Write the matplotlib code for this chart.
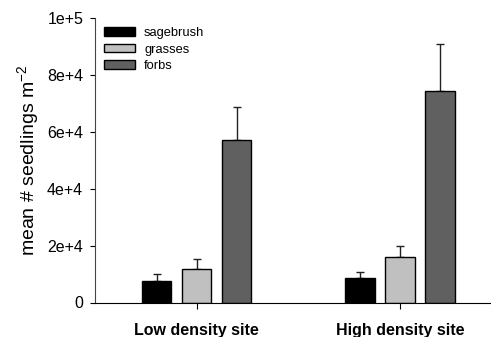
import numpy as np
import matplotlib.pyplot as plt

plt.rcParams['font.family'] = ['Liberation Sans', 'DejaVu Sans']

sites = ['Low density site', 'High density site']
groups = ['sagebrush', 'grasses', 'forbs']
means = {
    'sagebrush': [7700, 8500],
    'grasses': [11900, 15900],
    'forbs': [57100, 74300],
}
errs = {
    'sagebrush': [2400, 2300],
    'grasses': [3300, 4100],
    'forbs': [11500, 16500],
}
colors = {'sagebrush': '#000000', 'grasses': '#c0c0c0', 'forbs': '#606060'}

fig = plt.figure(figsize=(4.91, 3.37), dpi=100)
ax = fig.add_axes([95 / 491, 34.5 / 337, 396 / 491, 284.5 / 337])

x = np.arange(len(sites))
width = 0.145
offset = 0.197
for i, g in enumerate(groups):
    pos = x + (i - 1) * offset
    ax.bar(pos, means[g], width, color=colors[g], edgecolor='black',
           linewidth=1.0, label=g, zorder=2)
    ax.errorbar(pos, means[g], yerr=[np.zeros(len(sites)), errs[g]],
                fmt='none', ecolor='#222222', elinewidth=1.0,
                capsize=3, capthick=1.0, zorder=1)

ax.set_xlim(-0.5, 1.448)
ax.set_ylim(0, 100000)
ax.set_yticks([0, 20000, 40000, 60000, 80000, 100000])
ax.set_yticklabels(['0', '2e+4', '4e+4', '6e+4', '8e+4', '1e+5'], fontsize=11.5)
ax.set_xticks(x)
ax.set_xticklabels(sites, fontsize=11.5, fontweight='bold')
ax.tick_params(axis='x', length=4, pad=11)
ax.tick_params(axis='y', length=3.5, pad=5)
ax.set_ylabel('mean # seedlings m$^{\\mathregular{-2}}$', fontsize=14, labelpad=4)

for s in ['top', 'right']:
    ax.spines[s].set_visible(False)
ax.spines['left'].set_color('#444444')

ax.legend(loc='upper left', frameon=False, fontsize=9.3, handlelength=2.4,
          handleheight=0.6, handletextpad=0.7, labelspacing=0.35,
          borderaxespad=0.3, bbox_to_anchor=(0.0, 1.0))

fig.savefig('out.png', dpi=100)
